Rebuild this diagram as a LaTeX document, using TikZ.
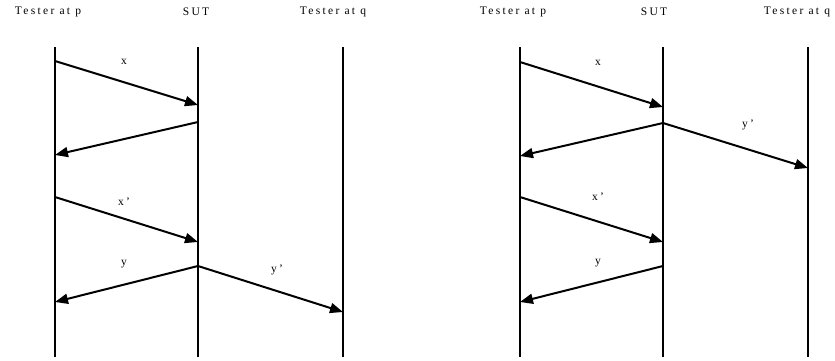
\documentclass[tikz,border=0pt]{standalone}
\usepackage{fontspec}
\setmainfont{Liberation Serif}
\newfontfamily\spaced[LetterSpace=20]{Liberation Serif}
\usetikzlibrary{arrows.meta}
\begin{document}
\begin{tikzpicture}[x=1pt,y=-1pt,
  life/.style={line width=2pt},
  msg/.style={line width=2pt,-{Triangle[length=13pt,width=10pt]}},
  head/.style={font=\spaced\fontsize{11.5}{13}\selectfont,inner sep=0pt},
  lbl/.style={font=\spaced\fontsize{11.5}{13}\selectfont,inner sep=0pt}]
\useasboundingbox (0,0) rectangle (835,360);
% ---------- left diagram ----------
\node[head] (hp1) at (48,12) {Tester at p};
\node[head] (hs1) at (196,12) {SUT};
\node[head] (hq1) at (333,12) {Tester at q};
\coordinate (p1t) at (55,47);  \coordinate (p1b) at (55,357);
\coordinate (s1t) at (198,47); \coordinate (s1b) at (198,357);
\coordinate (q1t) at (343,47); \coordinate (q1b) at (343,357);
\draw[life] (p1t) -- (p1b);
\draw[life] (s1t) -- (s1b);
\draw[life] (q1t) -- (q1b);
\coordinate (a1s) at (55,61);   \coordinate (a1e) at (198,105);
\coordinate (a2s) at (198,122); \coordinate (a2e) at (55,155);
\coordinate (a3s) at (55,197);  \coordinate (a3e) at (198,242);
\coordinate (a4s) at (198,266); \coordinate (a4e) at (55,302);
\coordinate (a5e) at (343,312);
\draw[msg] (a1s) -- (a1e);
\draw[msg] (a2s) -- (a2e);
\draw[msg] (a3s) -- (a3e);
\draw[msg] (a4s) -- (a4e);
\draw[msg] (a4s) -- (a5e);
\node[lbl] (lx1) at (124,62) {x};
\node[lbl] (lxp1) at (124,202) {x’};
\node[lbl] (ly1) at (124,264) {y};
\node[lbl] (lyp1) at (277,270) {y’};
% ---------- right diagram ----------
\node[head] (hp2) at (513,12) {Tester at p};
\node[head] (hs2) at (654,12) {SUT};
\node[head] (hq2) at (797,12) {Tester at q};
\coordinate (p2t) at (520,47); \coordinate (p2b) at (520,357);
\coordinate (s2t) at (663,47); \coordinate (s2b) at (663,357);
\coordinate (q2t) at (808,47); \coordinate (q2b) at (808,357);
\draw[life] (p2t) -- (p2b);
\draw[life] (s2t) -- (s2b);
\draw[life] (q2t) -- (q2b);
\coordinate (b1s) at (520,62);  \coordinate (b1e) at (663,107);
\coordinate (b2s) at (663,123); \coordinate (b2e) at (520,156);
\coordinate (b3e) at (808,168);
\coordinate (b4s) at (520,197); \coordinate (b4e) at (663,242);
\coordinate (b5s) at (663,266); \coordinate (b5e) at (520,302);
\draw[msg] (b1s) -- (b1e);
\draw[msg] (b2s) -- (b2e);
\draw[msg] (b2s) -- (b3e);
\draw[msg] (b4s) -- (b4e);
\draw[msg] (b5s) -- (b5e);
\node[lbl] (lx2) at (598,63) {x};
\node[lbl] (lyp2) at (748,125) {y’};
\node[lbl] (lxp2) at (598,197) {x’};
\node[lbl] (ly2) at (598,263) {y};
\end{tikzpicture}
\end{document}
